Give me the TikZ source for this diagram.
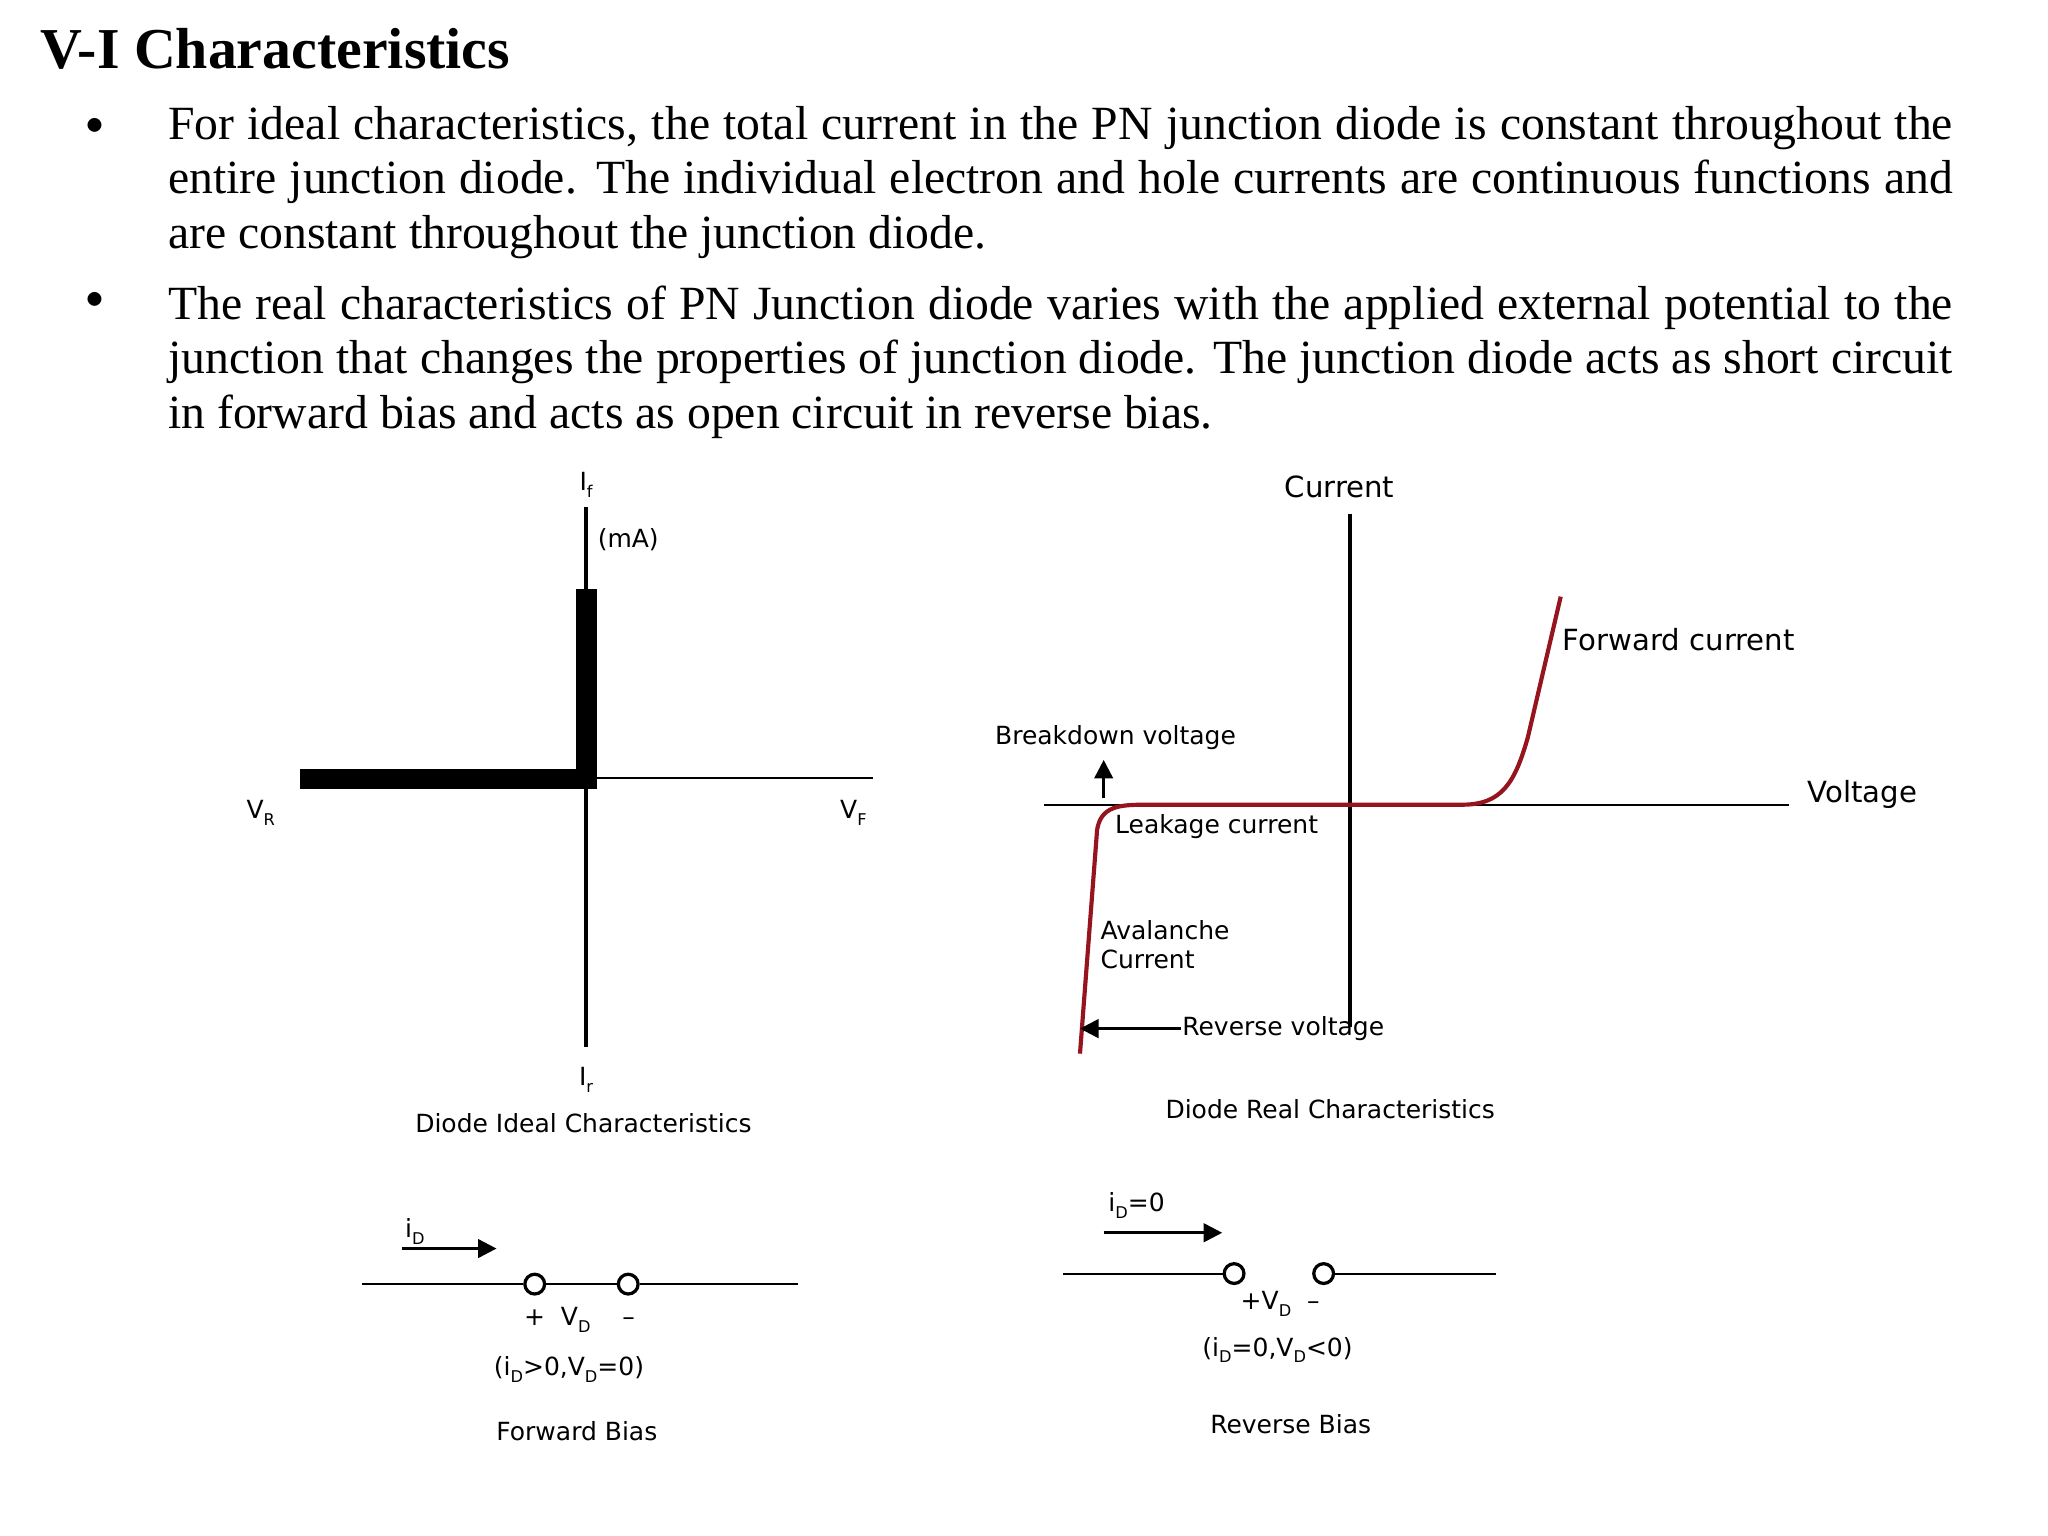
\documentclass[tikz,border=0pt]{standalone}
\usepackage{fontspec}
\setmainfont{Liberation Serif}
\newfontfamily\lab{DejaVu Sans}
\usetikzlibrary{arrows.meta}
\definecolor{curve}{RGB}{150,20,30}
\newcommand{\sbs}[1]{\raisebox{-0.5ex}{\fontsize{3.5}{4}\selectfont #1}}
\begin{document}
\begin{tikzpicture}[x=0.1mm,y=-0.1mm,
  lbl/.style={font=\lab\fontsize{5.4}{6.3}\selectfont,inner sep=0pt},
  ax/.style={line width=0.45pt},
  arr/.style={-{Triangle[length=4pt,width=4pt]},line width=0.6pt},
  term/.style={circle,draw,line width=0.7pt,minimum size=1.5mm,inner sep=0pt}]
\useasboundingbox (0,0) rectangle (1555,1166);
\node[anchor=west,font=\bfseries\fontsize{12.5}{15}\selectfont,inner sep=0pt] (title) at (30,37) {V-I Characteristics};
\node[anchor=north west,text width=135.5mm,align=justify,inner sep=0pt,font=\fontsize{10.3}{11.8}\selectfont] (b1) at (127,80) {\hyphenpenalty=10000 For ideal characteristics, the total current in the PN junction diode is constant throughout the entire junction diode. The individual electron and hole currents are continuous functions and are constant throughout the junction diode.\par\vspace{1.2mm}The real characteristics of PN Junction diode varies with the applied external potential to the junction that changes the properties of junction diode. The junction diode acts as short circuit in forward bias and acts as open circuit in reverse bias.};
\node[font=\scriptsize] (d1) at (72,96) {$\bullet$};
\node[font=\scriptsize] (d2) at (72,228) {$\bullet$};
% ideal
\coordinate (it) at (445,385); \coordinate (ib) at (445,795);
\coordinate (il) at (228,591); \coordinate (ir) at (663,591);
\draw[ax,line width=0.9pt] (it) -- (ib);
\draw[ax] (il) -- (ir);
\fill (228,584) rectangle (453,599);
\fill (437,447) rectangle (453,599);
\node[lbl] (if) at (445,368) {I\sbs{f}};
\node[lbl] (ma) at (477,410) {(mA)};
\node[lbl] (vr) at (198,617) {V\sbs{R}};
\node[lbl] (vf) at (648,617) {V\sbs{F}};
\node[lbl] (ir2) at (445,820) {I\sbs{r}};
\node[lbl] (c1) at (443,853) {Diode Ideal Characteristics};
% real
\coordinate (rt) at (1025,390); \coordinate (rb) at (1025,780);
\coordinate (rl) at (793,611); \coordinate (rr) at (1358,611);
\draw[ax,line width=0.8pt] (rt) -- (rb);
\draw[ax] (rl) -- (rr);
\draw[curve,line width=0.9pt] (820,800) -- (833,630) .. controls (836,612) and (850,611) .. (870,611) -- (1110,611) .. controls (1140,611) and (1150,595) .. (1160,560) -- (1185,453);
\coordinate (ba) at (838,606); \coordinate (bb) at (838,577);
\draw[arr] (ba) -- (bb);
\coordinate (ra) at (897,781); \coordinate (rb2) at (820,781);
\draw[arr] (ra) -- (rb2);
\node[lbl,font=\lab\fontsize{6.3}{7}\selectfont] (cur) at (1017,370) {Current};
\node[lbl,font=\lab\fontsize{6.3}{7}\selectfont,anchor=west] (fc) at (1186,486) {Forward current};
\node[lbl,font=\lab\fontsize{6.3}{7}\selectfont] (vol) at (1414,603) {Voltage};
\node[lbl] (bd) at (847,560) {Breakdown voltage};
\node[lbl,anchor=west] (lk) at (846,628) {Leakage current};
\node[lbl,anchor=west,align=left] (av) at (835,717) {Avalanche\\Current};
\node[lbl,anchor=west] (rv) at (897,781) {Reverse voltage};
\node[lbl] (c2) at (1010,842) {Diode Real Characteristics};
% forward bias
\node[term] (f1) at (406,975) {};
\node[term] (f2) at (477,975) {};
\coordinate (fl) at (275,975); \coordinate (fr) at (606,975);
\draw[ax] (fl) -- (f1) (f1) -- (f2) (f2) -- (fr);
\coordinate (fa1) at (305,948); \coordinate (fa2) at (377,948);
\draw[arr] (fa1) -- (fa2);
\node[lbl] (fid) at (315,935) {i\sbs{D}};
\node[lbl] (fvd) at (440,1002) {+\ \ V\sbs{D}\ \ \ \ –};
\node[lbl] (fc1) at (432,1040) {(i\sbs{D}>0,V\sbs{D}=0)};
\node[lbl] (fb) at (438,1087) {Forward Bias};
% reverse bias
\node[term] (r1) at (937,967) {};
\node[term] (r2) at (1005,967) {};
\coordinate (rl2) at (807,967); \coordinate (rr2) at (1136,967);
\draw[ax] (rl2) -- (r1) (r2) -- (rr2);
\coordinate (ra1) at (838,936); \coordinate (ra2) at (928,936);
\draw[arr] (ra1) -- (ra2);
\node[lbl] (rid) at (863,915) {i\sbs{D}=0};
\node[lbl] (rvd) at (972,990) {+V\sbs{D}\ \ –};
\node[lbl] (rc1) at (970,1025) {(i\sbs{D}=0,V\sbs{D}<0)};
\node[lbl] (rbb) at (980,1081) {Reverse Bias};
\end{tikzpicture}
\end{document}
